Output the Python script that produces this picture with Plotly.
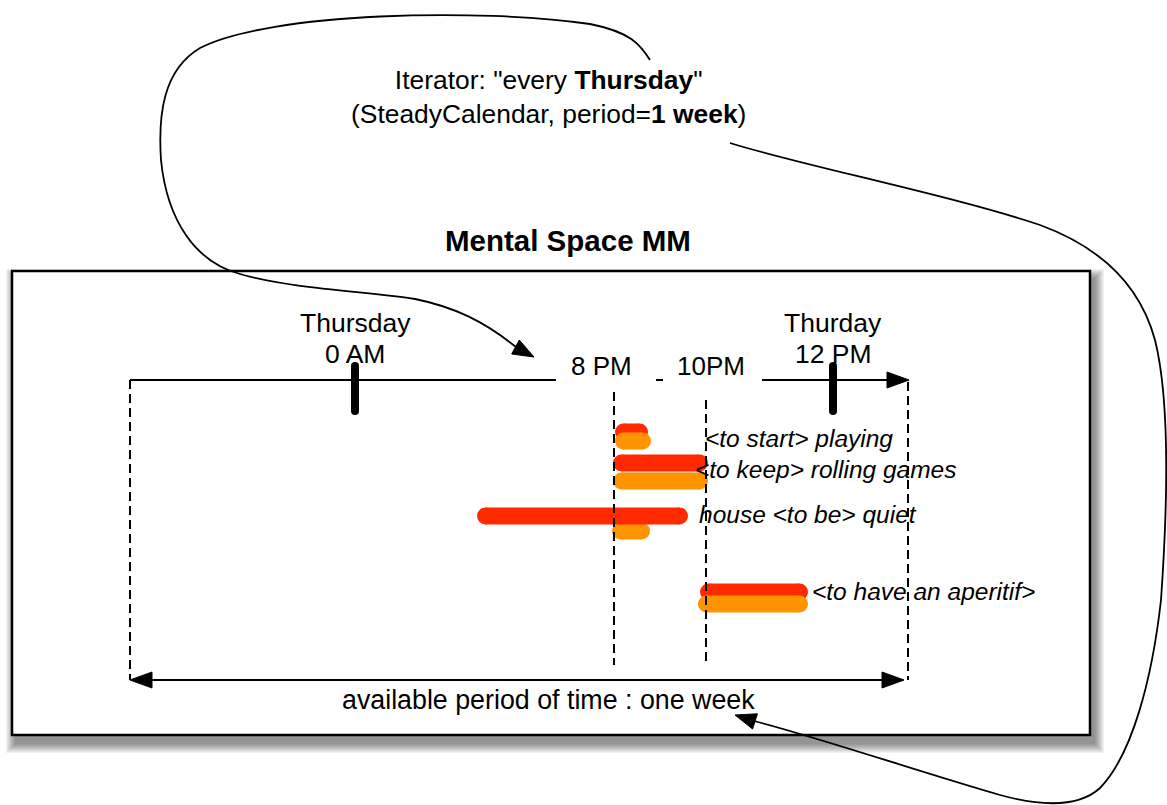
import math
import plotly.graph_objects as go

W, H = 1167, 805

# ---------------- data (diagram units along the timeline) ----------------
activities = ["<to start> playing", "<to keep> rolling games",
              "house <to be> quiet", "<to have an aperitif>"]
red_start = [615, 613, 477, 700]
red_end = [648, 708, 688, 808]
orange_start = [615, 613, 612, 698]
orange_end = [651, 708, 650, 808]
red_row_y = [432, 463, 516, 592]
orange_row_y = [441, 481, 531, 604]
red_on_top = [False, False, True, False]
label_x = [703, 693, 697, 810]
label_y = [438, 469, 514, 591]

day_ticks_x = [355, 833]
day_tick_labels = [["Thursday", "0 AM"], ["Thurday", "12 PM"]]
evening_marks_x = [614, 706]
evening_mark_labels = ["8 PM", "10PM"]
evening_label_x = [601, 711]

iterator_text = 'Iterator: "every <b>Thursday</b>"<br>(SteadyCalendar, period=<b>1 week</b>)'
space_title = "Mental Space MM"
period_text = "available period of time : one week"

RED = "#ff2a00"
ORANGE = "#ff9300"
FONT = "Liberation Sans, Arial, Helvetica, sans-serif"

# ---------------- layout geometry ----------------
box = dict(x0=12, x1=1090, y0=271, y1=735)
tl_y = 380
tl_x0, tl_x1 = 130, 908
bottom_y = 680
bar_w = 17


def esc(s):
    return s.replace("<", "&lt;").replace(">", "&gt;")


def arrow_path(tip, frm, length=21, half=8):
    tx, ty = tip
    fx, fy = frm
    dx, dy = tx - fx, ty - fy
    n = math.hypot(dx, dy)
    ux, uy = dx / n, dy / n
    bx, by = tx - ux * length, ty - uy * length
    px, py = -uy * half, ux * half
    return (f"M {tx:.1f},{ty:.1f} L {bx + px:.1f},{by + py:.1f} "
            f"L {bx - px:.1f},{by - py:.1f} Z")


fig = go.Figure()
shapes = []
annotations = []

# shadow of the mental-space box
for i in range(10):
    e = 10 - i
    shapes.append(dict(type="rect", xref="x", yref="y",
                       x0=box["x0"] - e + 4, x1=box["x1"] + e + 4,
                       y0=box["y0"] - e + 8, y1=box["y1"] + e + 8,
                       line_width=0, fillcolor="rgba(0,0,0,0.05)", layer="below"))
shapes.append(dict(type="rect", xref="x", yref="y", **box,
                   line=dict(color="black", width=2.5), fillcolor="white", layer="below"))

# timeline (interrupted behind the evening labels)
for a, b in [(tl_x0, 556), (656, 663), (762, tl_x1 - 18)]:
    shapes.append(dict(type="line", xref="x", yref="y", x0=a, x1=b, y0=tl_y, y1=tl_y,
                       line=dict(color="black", width=2), layer="above"))
shapes.append(dict(type="path", xref="x", yref="y",
                   path=arrow_path((tl_x1 + 1, tl_y), (tl_x0, tl_y), 22, 8),
                   fillcolor="black", line=dict(color="black", width=1), layer="above"))

# bottom double arrow
shapes.append(dict(type="line", xref="x", yref="y", x0=tl_x0 + 15, x1=tl_x1 - 20,
                   y0=bottom_y, y1=bottom_y, line=dict(color="black", width=2), layer="above"))
shapes.append(dict(type="path", xref="x", yref="y",
                   path=arrow_path((tl_x0, bottom_y), (tl_x1, bottom_y), 22, 8),
                   fillcolor="black", line=dict(color="black", width=1), layer="above"))
shapes.append(dict(type="path", xref="x", yref="y",
                   path=arrow_path((tl_x1 - 4, bottom_y), (tl_x0, bottom_y), 22, 8),
                   fillcolor="black", line=dict(color="black", width=1), layer="above"))

# dashed verticals
dash = "9px,5px"
for x, y0, y1 in [(tl_x0, tl_y, bottom_y), (tl_x1, tl_y + 2, bottom_y),
                  (evening_marks_x[0], 392, 665), (evening_marks_x[1], 400, 665)]:
    shapes.append(dict(type="line", xref="x", yref="y", x0=x, x1=x, y0=y0, y1=y1,
                       line=dict(color="black", width=2, dash=dash), layer="above"))

# curved connector 1 (iterator -> timeline)
curve1 = ("M 650,60 C 640,44 630,32 590,24 "
          "C 480,8 270,12 200,48 "
          "C 163,70 158,115 161,160 "
          "C 167,220 195,262 240,274 "
          "C 290,289 375,292 415,299 "
          "C 455,307 485,322 516,347")
shapes.append(dict(type="path", xref="x", yref="y", path=curve1,
                   line=dict(color="black", width=1.8), layer="above"))
shapes.append(dict(type="path", xref="x", yref="y",
                   path=arrow_path((534, 357), (510, 344), 21, 8),
                   fillcolor="black", line=dict(color="black", width=1), layer="above"))

# curved connector 2 (iterator -> available period)
curve2 = ("M 730,143 C 800,165 950,195 1040,225 "
          "C 1100,247 1140,285 1155,340 "
          "C 1170,400 1168,500 1161,600 "
          "C 1152,680 1132,755 1100,788 "
          "C 1078,808 1040,806 1000,795 "
          "C 920,772 820,738 754,721")
shapes.append(dict(type="path", xref="x", yref="y", path=curve2,
                   line=dict(color="black", width=1.8), layer="above"))
shapes.append(dict(type="path", xref="x", yref="y",
                   path=arrow_path((735, 715), (870, 758), 21, 8),
                   fillcolor="black", line=dict(color="black", width=1), layer="above"))

# activity bars (thick rounded strokes)
half = bar_w / 2.0
for i in range(len(activities)):
    red = (red_start[i], red_end[i], red_row_y[i], RED)
    org = (orange_start[i], orange_end[i], orange_row_y[i], ORANGE)
    order = [org, red] if red_on_top[i] else [red, org]
    for xs, xe, y, col in order:
        fig.add_trace(go.Scatter(
            x=[xs + half, xe - half], y=[y, y], mode="lines+markers",
            line=dict(color=col, width=bar_w),
            marker=dict(color=col, size=bar_w, line=dict(width=0)),
            hoverinfo="skip", showlegend=False))

# day ticks (thick black marks)
for x in day_ticks_x:
    fig.add_trace(go.Scatter(
        x=[x, x], y=[366, 411], mode="lines+markers",
        line=dict(color="black", width=8),
        marker=dict(color="black", size=8, line=dict(width=0)),
        hoverinfo="skip", showlegend=False))

# ---------------- texts ----------------
def text(x, y, s, size=26, xanchor="center", **kw):
    annotations.append(dict(x=x, y=y, xref="x", yref="y", text=s, showarrow=False,
                            xanchor=xanchor, yanchor="middle",
                            font=dict(family=FONT, size=size, color="black"), **kw))


text(548, 97, iterator_text, 26.4, align="center")
text(568, 240, f"<b>{space_title}</b>", 29.5)
for x, (l1, l2) in zip(day_ticks_x, day_tick_labels):
    text(x, 323, l1, 26.5)
    text(x, 354, l2, 26.5)
for x, s in zip(evening_label_x, evening_mark_labels):
    text(x, 366, s, 26)
for x, y, s in zip(label_x, label_y, activities):
    text(x, y, f"<i>{esc(s)}</i>", 24.5, xanchor="left")
text(548, 700, period_text, 26.8)

fig.update_layout(
    width=W, height=H, margin=dict(l=0, r=0, t=0, b=0),
    paper_bgcolor="white", plot_bgcolor="white",
    xaxis=dict(range=[0, W], visible=False, fixedrange=True),
    yaxis=dict(range=[H, 0], visible=False, fixedrange=True),
    shapes=shapes, annotations=annotations, showlegend=False,
)

fig.write_html("out.html", config={"displayModeBar": False},
               post_script="document.body.style.margin='0';document.body.style.overflow='hidden';")
